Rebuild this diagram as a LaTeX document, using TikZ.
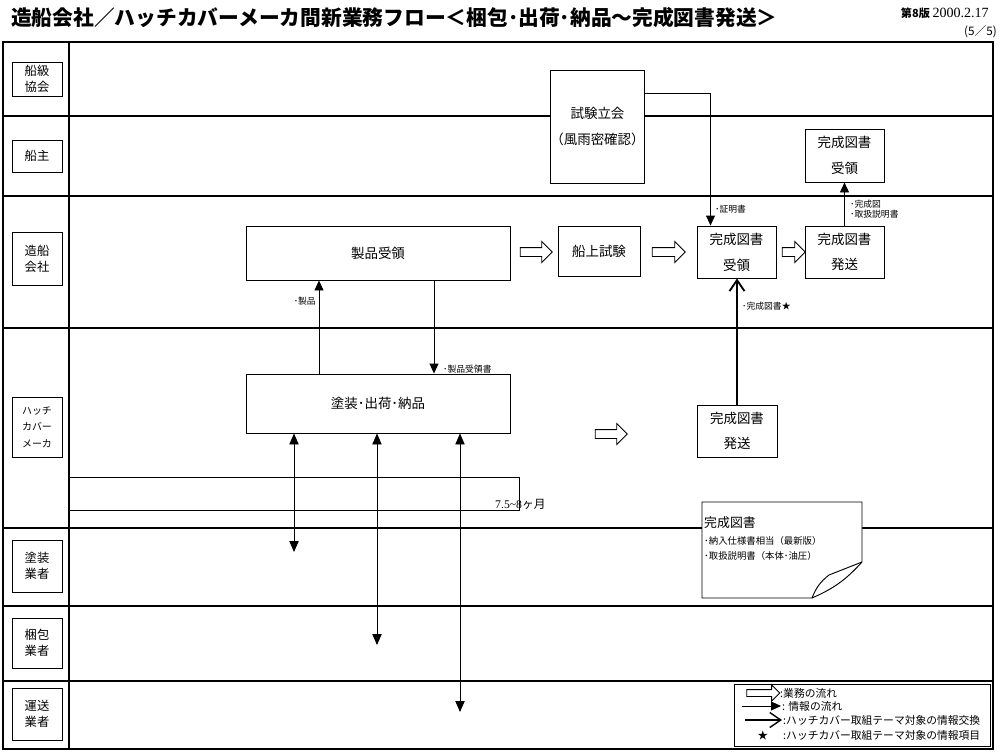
\documentclass[tikz,border=0pt]{standalone}
\usepackage{fontspec}
\setmainfont{Noto Sans CJK JP}
\newfontfamily\lserif{Liberation Serif}
\usetikzlibrary{arrows.meta,shapes.arrows,calc}

\tikzset{
	lane/.style={line width=1pt},
	lanebox/.style={draw, line width=0.8pt, fill=white, minimum width=1.5cm, align=center, inner sep=0pt, font=\fontsize{10.5}{14}\selectfont},
	taskbox/.style={draw, line width=0.8pt, fill=white, align=center, inner sep=0pt, font=\fontsize{11.5}{22}\selectfont},
	info/.style={line width=0.8pt, -{Triangle[length=0.3cm,width=0.27cm]}},
	infoboth/.style={line width=0.8pt, {Triangle[length=0.33cm,width=0.28cm]}-{Triangle[length=0.33cm,width=0.28cm]}},
	theme/.style={line width=1.6pt, -{Straight Barb[length=0.33cm,width=0.45cm]}},
	tag/.style={font=\fontsize{7.5}{9}\selectfont, inner sep=0pt, align=left},
	legtext/.style={tag, anchor=west, font=\fontsize{9.2}{10}\selectfont},
	blockarrow/.style={single arrow, draw, line width=0.8pt, fill=white, minimum height=#1, inner xsep=0pt, inner ysep=0.12cm, single arrow head extend=0.18cm},
}

\begin{document}
\begin{tikzpicture}[x=0.03cm, y=-0.03cm]
	\useasboundingbox (0,0) rectangle (1000,753);

	% heading
	\node[anchor=west, inner sep=0pt, font=\fontsize{17.7}{20}\selectfont\bfseries] (title) at (11,18) {造船会社／ハッチカバーメーカ間新業務フロー＜梱包･出荷･納品～完成図書発送＞};
	\node[anchor=east, inner sep=0pt] (ver) at (989,13) {{\fontsize{9.5}{10}\selectfont\bfseries 第8版}\ {\lserif\fontsize{12}{12}\selectfont 2000.2.17}};
	\node[anchor=east, inner sep=0pt, font=\fontsize{10}{11}\selectfont] (page) at (997,32) {(5／5)};

	% frame and lanes
	\draw[line width=1.2pt] (3,42) rectangle (993,749);
	\draw[lane] (69,42) -- (69,749);
	\foreach \y in {116,196,328,528,606,681} {
		\draw[lane] (3,\y) -- (993,\y);
	}

	% lane labels
	\node[lanebox, minimum height=1.02cm] (lKyokai) at (37,79) {船級\\協会};
	\node[lanebox, minimum height=0.96cm] (lSenshu) at (37,156) {船主};
	\node[lanebox, minimum height=1.59cm] (lZosen) at (37,259) {造船\\会社};
	\node[lanebox, minimum height=1.8cm, font=\fontsize{8.5}{14}\selectfont] (lHatch) at (37,427) {ハッチ\\カバー\\メーカ};
	\node[lanebox, minimum height=1.56cm] (lTosou) at (37,566) {塗装\\業者};
	\node[lanebox, minimum height=1.5cm] (lKonpo) at (37,643) {梱包\\業者};
	\node[lanebox, minimum height=1.56cm] (lUnso) at (37,714) {運送\\業者};

	% lead time bracket
	\draw[line width=0.8pt] (69,477) -| (519,510) -- (69,510);
	\node[anchor=west, inner sep=0pt, font=\fontsize{10}{11}\selectfont] (span) at (495,504) {{\lserif 7.5\textasciitilde 8}ヶ月};

	% tasks
	\node[taskbox, minimum width=2.67cm, minimum height=3.39cm] (shiken) at (597.5,126.5) {試験立会\\（風雨密確認）};
	\node[taskbox, minimum width=2.37cm, minimum height=1.59cm] (kanseiUkeSenshu) at (844.5,155.5) {完成図書\\受領};
	\node[taskbox, minimum width=7.92cm, minimum height=1.62cm] (seihin) at (378,253) {製品受領};
	\node[taskbox, minimum width=2.46cm, minimum height=1.5cm] (senjo) at (599,251) {船上試験};
	\node[taskbox, minimum width=2.37cm, minimum height=1.56cm] (kanseiUke) at (736.5,252) {完成図書\\受領};
	\node[taskbox, minimum width=2.37cm, minimum height=1.56cm] (kanseiHasso) at (844.5,252) {完成図書\\発送};
	\node[taskbox, minimum width=7.92cm, minimum height=1.77cm] (tosou) at (378,403.5) {塗装･出荷･納品};
	\node[taskbox, minimum width=2.4cm, minimum height=1.56cm] (hatchHasso) at (737,431) {完成図書\\発送};

	% work flow
	\node[blockarrow=0.96cm] (flowA) at (534,252) {};
	\node[blockarrow=0.99cm] (flowB) at (666.5,252) {};
	\node[blockarrow=0.69cm] (flowC) at (791.5,252) {};
	\node[blockarrow=0.96cm] (flowD) at (609,434) {};

	% information flow
	\draw[info] ($(shiken.north east)+(0,24)$) -| ($(kanseiUke.north west)+(14,0)$);
	\node[tag, anchor=west] (tShomei) at (715,209) {･証明書};
	\draw[info] (kanseiHasso.north) -- (kanseiUkeSenshu.south);
	\node[tag, anchor=west] (tKansei) at (850,209) {･完成図\\･取扱説明書};
	\draw[info] ($(tosou.north)+(-59,0)$) -- ($(seihin.south)+(-59,0)$);
	\node[tag, anchor=east] (tSeihin) at (316,301) {･製品};
	\draw[info] ($(seihin.south)+(56,0)$) -- ($(tosou.north)+(56,0)$);
	\node[tag, anchor=west] (tJuryo) at (443,369) {･製品受領書};
	\draw[theme] (hatchHasso.north) -- (hatchHasso.north |- kanseiUke.south);
	\node[tag, anchor=west] (tTosho) at (742,306) {･完成図書★};

	% to painting, packing and transport
	\foreach \dx/\y/\nm in {-84/552/tsEnd, -1/645/kpEnd, 82/712/usEnd} {
		\coordinate (\nm) at ({378+\dx},\y);
		\draw[infoboth] ($(tosou.south)+(\dx,0)$) -- (\nm);
	}

	% document note
	\draw[line width=0.8pt, fill=white] (702,502) -- (862,502) -- (862,562) to[bend left=12] (812,598) -- (702,598) -- cycle;
	\draw[line width=0.8pt] (862,562) -- (829,575) to[bend right=15] (812,598);
	\node[anchor=west, inner sep=0pt, font=\fontsize{11}{12}\selectfont] (noteHead) at (704,523) {完成図書};
	\node[tag, anchor=west, font=\fontsize{8}{9}\selectfont] (noteA) at (704,541) {･納入仕様書相当（最新版）};
	\node[tag, anchor=west, font=\fontsize{8}{9}\selectfont] (noteB) at (704,556) {･取扱説明書（本体･油圧）};

	% legend
	\draw[line width=0.8pt] (734,684) rectangle (990,746);
	\node[blockarrow=0.99cm, inner ysep=0.09cm, single arrow head extend=0.14cm] (lgFlow) at (761.5,693) {};
	\coordinate (lgInfoA) at (742,706);
	\coordinate (lgInfoB) at (781,706);
	\draw[info] (lgInfoA) -- (lgInfoB);
	\coordinate (lgThemeA) at (745,720);
	\coordinate (lgThemeB) at (782,720);
	\draw[theme, line width=1.2pt] (lgThemeA) -- (lgThemeB);
	\node[inner sep=0pt, font=\fontsize{9}{9}\selectfont] (lgStar) at (763,735) {★};
	\node[legtext] (lgFlowT) at (780,693) {:業務の流れ};
	\node[legtext] (lgInfoT) at (782,706) {: 情報の流れ};
	\node[legtext] (lgThemeT) at (783,720) {:ハッチカバー取組テーマ対象の情報交換};
	\node[legtext] (lgStarT) at (783,735) {:ハッチカバー取組テーマ対象の情報項目};
\end{tikzpicture}
\end{document}
